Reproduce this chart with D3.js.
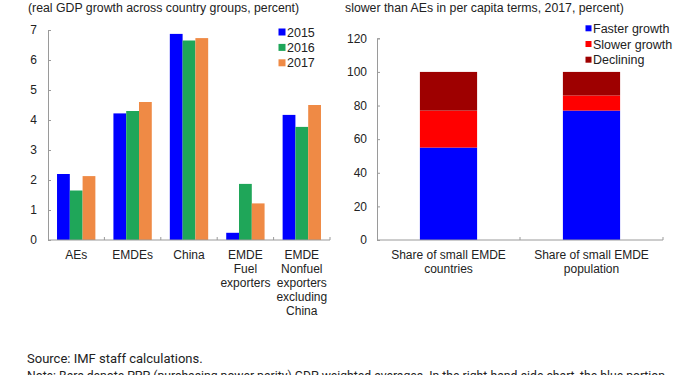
<!DOCTYPE html>
<html>
<head>
<meta charset="utf-8">
<script src="https://cdn.jsdelivr.net/npm/d3@7"></script>
<style>
  body { margin: 0; background: #fff; }
  svg { display: block; font-family: "Liberation Sans", Arial, sans-serif; }
</style>
</head>
<body>
<div id="chart"></div>
<script>
// left panel: real GDP growth
const groups = ["AEs", "EMDEs", "China", "EMDE Fuel exporters", "EMDE Nonfuel exporters excluding China"];
const groupLines = [["AEs"], ["EMDEs"], ["China"], ["EMDE", "Fuel", "exporters"], ["EMDE", "Nonfuel", "exporters", "excluding", "China"]];
const years = ["2015", "2016", "2017"];
const g2015 = [2.2, 4.22, 6.87, 0.24, 4.17];
const g2016 = [1.65, 4.3, 6.65, 1.87, 3.77];
const g2017 = [2.13, 4.6, 6.73, 1.22, 4.5];
const leftTicks = [0, 1, 2, 3, 4, 5, 6, 7];

// right panel: shares
const shares = ["Share of small EMDE countries", "Share of small EMDE population"];
const shareLines = [["Share of small EMDE", "countries"], ["Share of small EMDE", "population"]];
const parts = ["Faster growth", "Slower growth", "Declining"];
const faster = [55, 77];
const slower = [22, 9];
const declining = [23, 14];
const rightTicks = [0, 20, 40, 60, 80, 100, 120];

const W = 700, H = 375;
const svg = d3.select("#chart").append("svg").attr("width", W).attr("height", H);
const axisCol = "#9a9a9a";
const textCol = "#222";

// ---------- left chart
const yearColors = ["#0000ff", "#1fa659", "#ef8a45"];
const series = [g2015, g2016, g2017];

const x0 = d3.scaleBand().domain(groups).range([48, 330]);
const x1 = d3.scaleBand().domain(years)
  .range([x0.bandwidth() * 0.16, x0.bandwidth() * 0.84]);
const yL = d3.scaleLinear().domain([0, 7]).range([240, 30]);

svg.append("text").attr("x", 28).attr("y", 12)
  .attr("font-size", 12.3).attr("fill", textCol)
  .text("(real GDP growth across country groups, percent)");

const left = svg.append("g");
groups.forEach((gname, i) => {
  years.forEach((yr, j) => {
    left.append("rect")
      .attr("x", x0(gname) + x1(yr))
      .attr("width", x1.bandwidth())
      .attr("y", yL(series[j][i]))
      .attr("height", yL(0) - yL(series[j][i]))
      .attr("fill", yearColors[j]);
  });
});

const yAxisL = svg.append("g").attr("transform", "translate(48,0)")
  .call(d3.axisRight(yL).tickValues(leftTicks).tickSize(3).tickFormat(d3.format("d")));
yAxisL.selectAll("text").attr("x", -11).attr("text-anchor", "end")
  .attr("font-size", 12).attr("fill", textCol).attr("font-family", "Liberation Sans, Arial, sans-serif");

const xAxisL = svg.append("g").attr("transform", "translate(0,240)");
xAxisL.append("line").attr("x1", 48).attr("x2", 330).attr("stroke", axisCol);
groups.forEach((gname, i) => {
  const bx = x0(gname) + x0.bandwidth();
  xAxisL.append("line").attr("x1", bx).attr("x2", bx).attr("y1", 0).attr("y2", -3).attr("stroke", axisCol);
  const t = xAxisL.append("text").attr("text-anchor", "middle")
    .attr("font-size", 12).attr("fill", textCol);
  groupLines[i].forEach((ln, k) => {
    t.append("tspan").attr("x", x0(gname) + x0.bandwidth() / 2).attr("y", 19 + k * 14).text(ln);
  });
});

const legL = svg.append("g");
years.forEach((yr, j) => {
  const cy = 32 + j * 15.4;
  legL.append("rect").attr("x", 278.5).attr("y", cy - 3.5).attr("width", 7).attr("height", 7).attr("fill", yearColors[j]);
  legL.append("text").attr("x", 287).attr("y", cy + 4.5).attr("font-size", 12.5).attr("fill", textCol).text(yr);
});

// ---------- right chart
const partColors = ["#0000ff", "#ff0000", "#9e0000"];
const partVals = [faster, slower, declining];

const xR = d3.scaleBand().domain(shares).range([377, 663]).paddingInner(0.6).paddingOuter(0.3);
const yR = d3.scaleLinear().domain([0, 120]).range([240, 38.3]);

svg.append("text").attr("x", 345).attr("y", 12)
  .attr("font-size", 12.3).attr("fill", textCol)
  .text("slower than AEs in per capita terms, 2017, percent)");

const stackData = shares.map((s, i) => {
  const o = { key: s };
  parts.forEach((p, k) => { o[p] = partVals[k][i]; });
  return o;
});
const stacked = d3.stack().keys(parts)(stackData);

const right = svg.append("g");
stacked.forEach((layer, k) => {
  right.selectAll(null).data(layer).join("rect")
    .attr("x", d => xR(d.data.key))
    .attr("width", xR.bandwidth())
    .attr("y", d => yR(d[1]))
    .attr("height", d => yR(d[0]) - yR(d[1]))
    .attr("fill", partColors[k]);
});

const yAxisR = svg.append("g").attr("transform", "translate(377,0)")
  .call(d3.axisRight(yR).tickValues(rightTicks).tickSize(3));
yAxisR.selectAll("text").attr("x", -10).attr("text-anchor", "end")
  .attr("font-size", 12).attr("fill", textCol).attr("font-family", "Liberation Sans, Arial, sans-serif");

const xAxisR = svg.append("g").attr("transform", "translate(0,240)");
xAxisR.append("line").attr("x1", 377).attr("x2", 663).attr("stroke", axisCol);
shares.forEach((s, i) => {
  const cx = xR(s) + xR.bandwidth() / 2;
  const bx = cx + xR.step() / 2;
  xAxisR.append("line").attr("x1", bx).attr("x2", bx).attr("y1", 0).attr("y2", -3).attr("stroke", axisCol);
  const t = xAxisR.append("text").attr("text-anchor", "middle").attr("font-size", 12).attr("fill", textCol);
  shareLines[i].forEach((ln, k) => {
    t.append("tspan").attr("x", cx).attr("y", 19 + k * 13.5).text(ln);
  });
});

[yAxisL, yAxisR].forEach(a => {
  a.select(".domain").attr("stroke", axisCol);
  a.selectAll(".tick line").attr("stroke", axisCol);
});

const legR = svg.append("g");
parts.forEach((p, k) => {
  const cy = 28.3 + k * 15.7;
  legR.append("rect").attr("x", 585.5).attr("y", cy - 3).attr("width", 6).attr("height", 6).attr("fill", partColors[k]);
  legR.append("text").attr("x", 593).attr("y", cy + 4.5).attr("font-size", 12.5).attr("fill", textCol).text(p);
});

// ---------- footer
const foot = svg.append("g").attr("font-family", "Roboto, sans-serif").attr("font-size", 13).attr("fill", textCol);
foot.append("text").attr("x", 27).attr("y", 363).text("Source: IMF staff calculations.");
foot.append("text").attr("x", 27).attr("y", 380)
  .attr("textLength", 638).attr("lengthAdjust", "spacingAndGlyphs")
  .text("Note: Bars denote PPP (purchasing power parity) GDP weighted averages. In the right-hand-side chart, the blue portion");
</script>
</body>
</html>
